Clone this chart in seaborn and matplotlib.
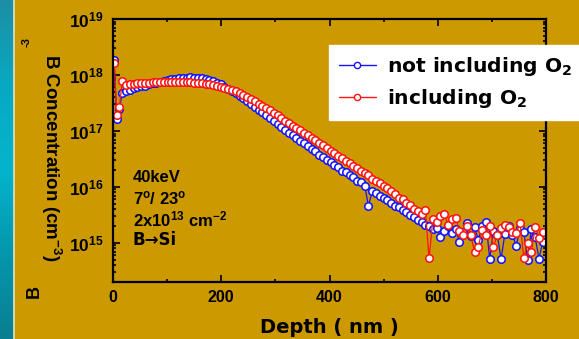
import numpy as np
import pandas as pd
import matplotlib
matplotlib.use("Agg")
import matplotlib.pyplot as plt
import seaborn as sns
from matplotlib.lines import Line2D
from matplotlib.colors import LinearSegmentedColormap
from matplotlib.ticker import LogLocator, MultipleLocator, NullFormatter, FixedLocator

# ---------------- data ----------------
depth_head = [2, 7, 12]
depth_grid = list(range(17, 800, 7))
depth_nm = depth_head + depth_grid

log_conc_not_o2 = [
    18.27, 17.22, 17.40,
    17.68, 17.72, 17.74, 17.76, 17.78, 17.80, 17.81, 17.83, 17.85, 17.86,
    17.88, 17.89, 17.91, 17.92, 17.93, 17.94, 17.95, 17.95, 17.96, 17.95,
    17.95, 17.94, 17.93, 17.91, 17.89, 17.86, 17.83, 17.79, 17.75, 17.71,
    17.67, 17.62, 17.58, 17.53, 17.48, 17.43, 17.38, 17.33, 17.28, 17.23,
    17.17, 17.12, 17.07, 17.02, 16.97, 16.92, 16.88, 16.82, 16.78, 16.73,
    16.67, 16.64, 16.57, 16.54, 16.48, 16.44, 16.39, 16.35, 16.29, 16.26,
    16.21, 16.17, 16.11, 16.09, 16.02, 15.66, 15.93, 15.90, 15.84, 15.81,
    15.77, 15.72, 15.66, 15.64, 15.58, 15.55, 15.49, 15.47, 15.41, 15.38,
    15.32, 15.30, 15.24, 15.27, 15.10, 15.22, 15.30, 15.18, 15.25, 15.02,
    15.20, 15.36, 15.12, 15.28, 15.05, 15.30, 15.38, 14.71, 15.22, 15.14,
    14.71, 15.16, 15.30, 15.14, 14.95, 15.27, 15.20, 14.70, 15.25, 15.10,
    14.72, 15.02,
]

log_conc_o2 = [
    18.22, 17.29, 17.43,
    17.89, 17.82, 17.83, 17.84, 17.85, 17.85, 17.86, 17.86, 17.87, 17.87,
    17.88, 17.88, 17.88, 17.88, 17.88, 17.88, 17.88, 17.87, 17.87, 17.86,
    17.86, 17.85, 17.84, 17.83, 17.82, 17.81, 17.79, 17.77, 17.75, 17.73,
    17.71, 17.68, 17.65, 17.61, 17.57, 17.53, 17.49, 17.45, 17.41, 17.37,
    17.32, 17.28, 17.23, 17.18, 17.14, 17.09, 17.05, 17.01, 16.96, 16.92,
    16.87, 16.83, 16.79, 16.75, 16.69, 16.64, 16.60, 16.55, 16.52, 16.46,
    16.43, 16.37, 16.34, 16.29, 16.24, 16.21, 16.15, 16.11, 16.07, 16.02,
    15.98, 15.92, 15.87, 15.80, 15.78, 15.71, 15.68, 15.60, 15.57, 15.52,
    15.58, 14.73, 15.42, 15.38, 15.48, 15.52, 15.32, 15.42, 15.45, 15.22,
    15.14, 15.30, 15.14, 14.84, 14.93, 15.23, 15.14, 15.30, 14.93, 15.14,
    15.27, 15.32, 15.29, 15.20, 15.18, 15.35, 14.73, 15.00, 14.84, 15.29,
    15.09, 15.20,
]

series_labels = ["not including O$_2$", "including O$_2$"]
series_colors = ["#1414FF", "#FF1414"]
annotation_lines = ["40keV", "7$^{o}$/ 23$^{o}$", "2x10$^{13}$ cm$^{-2}$", "B\u2192Si"]
x_major_ticks = [0, 200, 400, 600, 800]
x_label = "Depth ( nm )"
y_label = "B Concentration (cm$^{-3}$)"

GOLD = "#CC9900"

# ---------------- style ----------------
sns.set_style("ticks")
plt.rcParams["font.family"] = ["Liberation Sans", "DejaVu Sans"]
plt.rcParams["font.weight"] = "bold"
plt.rcParams["mathtext.default"] = "regular"
plt.rcParams["axes.edgecolor"] = "black"
plt.rcParams["axes.labelcolor"] = "black"
plt.rcParams["text.color"] = "black"
plt.rcParams["xtick.color"] = "black"
plt.rcParams["ytick.color"] = "black"
plt.rcParams["xtick.labelcolor"] = "black"
plt.rcParams["ytick.labelcolor"] = "black"

W, H = 579, 339
fig = plt.figure(figsize=(W / 100, H / 100), dpi=100)
fig.patch.set_facecolor(GOLD)

# teal strip at the left edge
sax = fig.add_axes([0, 0, 13 / W, 1])
teal = LinearSegmentedColormap.from_list(
    "teal", ["#1C8FA6", "#08A9C2", "#04B4CC", "#0497AE", "#0A7F92"])
sax.imshow(np.linspace(0, 1, 100).reshape(-1, 1), cmap=teal, aspect="auto")
sax.axis("off")
fig.add_artist(Line2D([13.5 / W, 13.5 / W], [0, 1], color="#CFE3D6", lw=1.2,
                      transform=fig.transFigure))

ax = fig.add_axes([113 / W, 1 - 282 / H, (546 - 113) / W, (282 - 19) / H])
ax.set_facecolor(GOLD)

for logs, lab, col in zip([log_conc_not_o2, log_conc_o2], series_labels, series_colors):
    df = pd.DataFrame({"depth": depth_nm, "conc": 10.0 ** np.array(logs)})
    sns.lineplot(data=df, x="depth", y="conc", ax=ax, color=col, linewidth=0.9,
                 marker="o", markersize=5.4, markerfacecolor="white",
                 markeredgecolor=col, markeredgewidth=1.15, legend=False,
                 estimator=None, sort=False)

ax.set_yscale("log")
ax.set_xlim(0, 800)
ax.set_ylim(2e14, 1e19)

ax.xaxis.set_major_locator(FixedLocator(x_major_ticks))
ax.xaxis.set_minor_locator(MultipleLocator(100))
ax.yaxis.set_major_locator(LogLocator(base=10, numticks=10))
ax.yaxis.set_minor_locator(LogLocator(base=10, subs=np.arange(2, 10), numticks=20))
ax.yaxis.set_minor_formatter(NullFormatter())

ax.tick_params(which="both", direction="in", top=True, right=True, width=1.2,
               colors="black", labelcolor="black")
ax.tick_params(which="major", length=5, labelsize=11.5)
ax.tick_params(which="minor", length=2.5)
ax.tick_params(axis="x", which="major", pad=6)
ax.tick_params(axis="y", which="major", pad=7, labelsize=12.5)
for sp in ax.spines.values():
    sp.set_linewidth(1.6)
    sp.set_visible(True)
    sp.set_color("black")

ax.set_xlabel(x_label, fontsize=14, fontweight="bold", labelpad=9,
              family=["DejaVu Sans"], color="black")
ax.set_ylabel("")
fig.text(51 / W, 1 - 158 / H, y_label, rotation=270, fontsize=13.5, fontweight="bold",
         ha="center", va="center", color="black")
# remnants of a second label in the reference
fig.text(27 / W, 1 - 42 / H, "-3", rotation=90, fontsize=8, fontweight="bold",
         ha="center", va="center")
fig.text(34 / W, 1 - 291 / H, "B", rotation=90, fontsize=13, fontweight="bold",
         ha="center", va="center")

# annotation block
for i, line in enumerate(annotation_lines):
    fam = ["DejaVu Sans"] if "\u2192" in line else ["Liberation Sans", "DejaVu Sans"]
    fig.text(133 / W, 1 - (177 + 21 * i) / H, line, family=fam,
             fontsize=12, fontweight="bold", ha="left", va="center", color="black")

handles = [Line2D([], [], color=c, lw=1.0, marker="o", markersize=4.5,
                  markerfacecolor="white", markeredgecolor=c, markeredgewidth=1.0)
           for c in series_colors]
leg = fig.legend(handles, series_labels, loc="upper left",
                 bbox_to_anchor=(329 / W, 1 - 45 / H), bbox_transform=fig.transFigure,
                 frameon=True, fancybox=False, facecolor="white", edgecolor="white",
                 framealpha=1, prop={"size": 14.6, "weight": "bold",
                                     "family": ["DejaVu Sans"]},
                 handlelength=1.8, handletextpad=0.55, labelspacing=0.45,
                 borderpad=0.5, borderaxespad=0)
for t in leg.get_texts():
    t.set_color("black")

fig.savefig("out.png", dpi=100, facecolor=GOLD)
